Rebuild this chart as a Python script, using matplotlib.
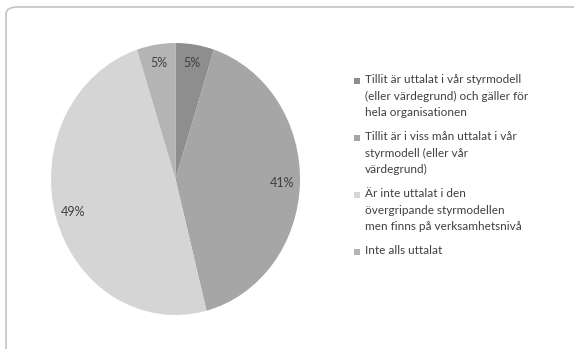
import matplotlib.pyplot as plt
from matplotlib.patches import FancyBboxPatch, Rectangle

labels = ['Tillit är uttalat i vår styrmodell\n(eller värdegrund) och gäller för\nhela organisationen',
          'Tillit är i viss mån uttalat i vår\nstyrmodell (eller vår\nvärdegrund)',
          'Är inte uttalat i den\növergripande styrmodellen\nmen finns på verksamhetsnivå',
          'Inte alls uttalat']
values = [5, 41, 49, 5]
colors = ['#8e8e8e', '#a6a6a6', '#d5d5d5', '#b4b4b4']

plt.rcParams['font.family'] = ['Lato', 'DejaVu Sans']

fig = plt.figure(figsize=(5.74, 3.49), dpi=100)
W, H = 574, 349

# rounded frame around the chart area
frame = FancyBboxPatch((6 / W, -20 / H), 600 / W, (H - 7 + 20) / H,
                       boxstyle='round,pad=0,rounding_size=0.02',
                       transform=fig.transFigure, facecolor='white',
                       edgecolor='#c4c4c4', linewidth=1.2, zorder=-5)
fig.patches.append(frame)

ax = fig.add_axes([51 / W, 34 / H, 249 / W, 272 / H])
ax.set_zorder(2)
wedges, texts = ax.pie(values, colors=colors, startangle=90, counterclock=False,
                       labels=['%d%%' % v for v in values], labeldistance=0.86,
                       wedgeprops=dict(linewidth=0),
                       textprops=dict(color='#404040', fontsize=9, ha='center', va='center'))
ax.set_aspect('auto')
ax.set_xlim(-1, 1)
ax.set_ylim(-1, 1)

# legend: square marker next to the first line of each entry
line_h = 16.5
y = 81
for lab, c in zip(labels, colors):
    n = lab.count('\n') + 1
    fig.text(365 / W, 1 - (y - 7) / H, lab, fontsize=8.5, color='#404040',
             va='top', ha='left', linespacing=1.62)
    fig.patches.append(Rectangle((354 / W, 1 - (y + 3) / H), 6 / W, 6 / H,
                                 transform=fig.transFigure, facecolor=c,
                                 edgecolor='none', zorder=3))
    y += (n - 1) * line_h + 24

fig.savefig('out.png', dpi=100)
